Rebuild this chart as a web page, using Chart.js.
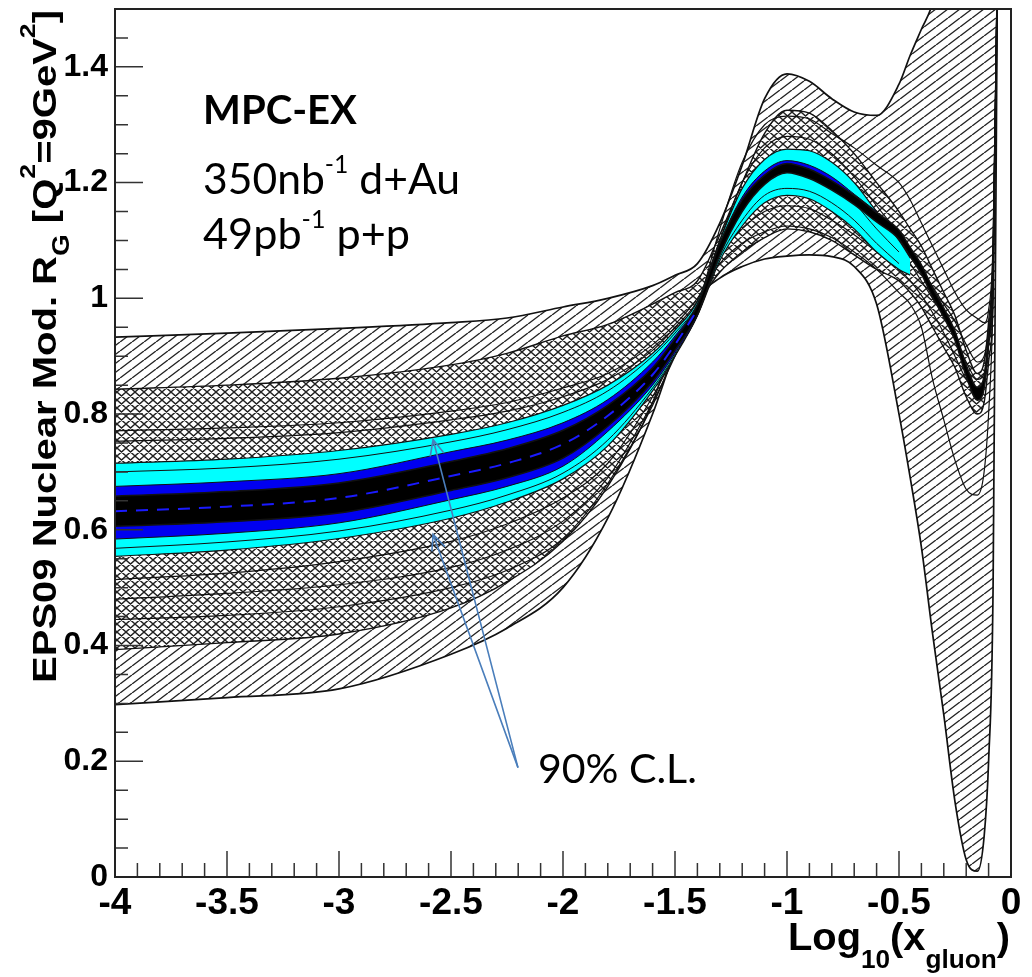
<!DOCTYPE html>
<html>
<head>
<meta charset="utf-8">
<title>EPS09 gluon nuclear modification</title>
<script src="https://cdn.jsdelivr.net/npm/chart.js@4.4.1/dist/chart.umd.min.js"></script>
<style>
  html, body { margin: 0; padding: 0; background: #fff; }
  canvas { display: block; }
</style>
</head>
<body>
<canvas id="c" width="1032" height="977" style="width:1032px;height:977px"></canvas>
<script>
// ---- data: log10(x_gluon) grid and the band / member curves of R_G ----
const xs = [-4, -3.5, -3, -2.5, -2.25, -2, -1.8, -1.6, -1.5, -1.4,
            -1.3, -1.2, -1.1, -1.0, -0.9, -0.8, -0.7, -0.6, -0.5, -0.45,
            -0.4, -0.35, -0.3, -0.25, -0.2, -0.15, -0.12, -0.1, -0.08, -0.06];

// outer (single-hatched) envelope
const outerHi = [0.933, 0.94, 0.948, 0.958, 0.966, 0.985, 1.0, 1.022, 1.04, 1.06,
                 1.13, 1.23, 1.345, 1.388, 1.375, 1.345, 1.322, 1.316, 1.37, 1.42,
                 1.465, 1.51, 1.6, 1.7, 1.8, 1.8, 1.8, 1.8, 1.8, 1.8];
const outerLo = [0.298, 0.31, 0.325, 0.385, 0.43, 0.5, 0.62, 0.8, 0.91, 1.0,
                 1.035, 1.055, 1.068, 1.073, 1.075, 1.072, 1.055, 0.99, 0.8, 0.69,
                 0.57, 0.42, 0.28, 0.13, 0.03, 0.01, 0.07, 0.2, 0.5, 1.6];

// inner (cross-hatched) envelope
const crossHi = [0.843, 0.85, 0.862, 0.885, 0.905, 0.935, 0.955, 0.99, 1.01, 1.03,
                 1.11, 1.2, 1.285, 1.325, 1.32, 1.29, 1.25, 1.2, 1.15, 1.12,
                 1.09, 1.05, 1.01, 0.97, 0.91, 0.87, 0.89, 0.96, 1.08, 1.6];
const crossLo = [0.393, 0.405, 0.42, 0.465, 0.51, 0.58, 0.675, 0.82, 0.93, 0.99,
                 1.045, 1.08, 1.105, 1.12, 1.115, 1.1, 1.075, 1.05, 1.03, 1.01,
                 0.985, 0.95, 0.915, 0.88, 0.83, 0.8, 0.82, 0.89, 1.0, 1.55];

// individual error-set members
const lineA = [0.771, 0.776, 0.785, 0.805, 0.82, 0.845, 0.87, 0.92, 0.955, 1.0,
               1.06, 1.095, 1.115, 1.125, 1.12, 1.105, 1.08, 1.05, 1.01, 0.99,
               0.95, 0.86, 0.79, 0.72, 0.67, 0.66, 0.7, 0.8, 1.0, 1.55];
const lineB = [0.753, 0.758, 0.768, 0.79, 0.805, 0.83, 0.86, 0.91, 0.95, 0.995,
               1.075, 1.12, 1.15, 1.16, 1.155, 1.135, 1.11, 1.08, 1.05, 1.03,
               1.005, 0.975, 0.94, 0.9, 0.86, 0.84, 0.85, 0.92, 1.05, 1.6];
const lineC = [0.514, 0.525, 0.545, 0.58, 0.61, 0.655, 0.715, 0.83, 0.905, 0.985,
               1.12, 1.235, 1.3, 1.315, 1.31, 1.285, 1.26, 1.23, 1.2, 1.17,
               1.13, 1.09, 1.05, 1.01, 0.98, 0.965, 0.958, 0.98, 1.1, 1.6];
const lineD = [0.48, 0.49, 0.505, 0.535, 0.565, 0.615, 0.69, 0.82, 0.9, 0.985,
               1.1, 1.2, 1.26, 1.28, 1.275, 1.25, 1.21, 1.16, 1.11, 1.08,
               1.05, 1.02, 0.99, 0.96, 0.92, 0.89, 0.9, 0.95, 1.07, 1.6];
const lineE = [0.445, 0.452, 0.467, 0.5, 0.53, 0.585, 0.68, 0.815, 0.905, 0.99,
               1.09, 1.17, 1.23, 1.25, 1.245, 1.225, 1.19, 1.14, 1.09, 1.06,
               1.03, 1.0, 0.97, 0.93, 0.89, 0.86, 0.87, 0.93, 1.06, 1.6];

// 90% C.L. projected band (cyan), inner band (blue) and central core
const cyanHi = [0.715, 0.722, 0.737, 0.765, 0.785, 0.815, 0.85, 0.905, 0.945, 0.995,
                1.1, 1.19, 1.24, 1.258, 1.255, 1.235, 1.2, 1.15, 1.1, 1.07,
                null, null, null, null, null, null, null, null, null, null];
const cyanLo = [0.554, 0.565, 0.585, 0.62, 0.648, 0.688, 0.745, 0.84, 0.9, 0.97,
                1.065, 1.125, 1.165, 1.178, 1.172, 1.15, 1.12, 1.08, 1.05, 1.04,
                null, null, null, null, null, null, null, null, null, null];
const cyanInU = [0.7, 0.707, 0.722, 0.752, 0.773, 0.803, 0.84, 0.9, 0.94, 0.99,
                 1.09, 1.165, 1.21, 1.228, 1.222, 1.2, 1.165, 1.12, 1.08, null,
                 null, null, null, null, null, null, null, null, null, null];
const cyanInL = [0.568, 0.579, 0.598, 0.634, 0.66, 0.698, 0.755, 0.845, 0.902, 0.972,
                 1.07, 1.135, 1.178, 1.19, 1.185, 1.165, 1.135, 1.095, 1.06, null,
                 null, null, null, null, null, null, null, null, null, null];
const blueHi = [0.675, 0.683, 0.697, 0.735, 0.755, 0.785, 0.825, 0.89, 0.935, 0.99,
                1.095, 1.175, 1.22, 1.238, 1.23, 1.21, 1.18, 1.15, null, null,
                null, null, null, null, null, null, null, null, null, null];
const blueLo = [0.584, 0.594, 0.612, 0.652, 0.675, 0.71, 0.77, 0.85, 0.905, 0.97,
                1.08, 1.16, 1.205, 1.222, 1.215, 1.195, 1.165, 1.135, null, null,
                null, null, null, null, null, null, null, null, null, null];
const coreHi = [0.658, 0.666, 0.681, 0.718, 0.74, 0.772, 0.815, 0.88, 0.93, 0.988,
                1.095, 1.17, 1.213, 1.233, 1.223, 1.203, 1.178, 1.148, 1.118, 1.088,
                1.058, 1.018, 0.983, 0.943, 0.885, 0.846, 0.866, 0.94, 1.05, 1.6];
const coreLo = [0.606, 0.614, 0.629, 0.668, 0.69, 0.724, 0.779, 0.856, 0.91, 0.972,
                1.075, 1.15, 1.197, 1.217, 1.207, 1.187, 1.162, 1.132, 1.102, 1.072,
                1.042, 1.002, 0.967, 0.927, 0.865, 0.824, 0.844, 0.92, 1.03, 1.6];
const coreMid = [0.632, 0.64, 0.655, 0.693, 0.715, 0.748, 0.797, 0.868, 0.92, 0.98,
                 null, null, null, null, null, null, null, null, null, null,
                 null, null, null, null, null, null, null, null, null, null];

// axis tick labels
const xTicks = [-4, -3.5, -3, -2.5, -2, -1.5, -1, -0.5, 0];
const yTicks = [0, 0.2, 0.4, 0.6, 0.8, 1, 1.2, 1.4];

// ---- drawing ----
const canvas = document.getElementById('c');
const ctx = canvas.getContext('2d');

function hatch(w, h, both) {
  const t = document.createElement('canvas');
  t.width = w; t.height = h;
  const g = t.getContext('2d');
  g.fillStyle = '#fff';
  g.fillRect(0, 0, w, h);
  g.strokeStyle = '#222';
  g.lineWidth = 1.35;
  g.beginPath();
  for (let k = -1; k <= 1; k++) {
    g.moveTo(k * w, h); g.lineTo(k * w + w, 0);
    if (both) { g.moveTo(k * w, 0); g.lineTo(k * w + w, h); }
  }
  g.stroke();
  return ctx.createPattern(t, 'repeat');
}
const singleHatch = hatch(12, 9, false);
const crossHatch = hatch(9, 8, true);

const pts = arr => xs.map((x, i) => ({ x, y: arr[i] }));
function curve(arr, extra) {
  return Object.assign({
    data: pts(arr),
    borderColor: '#111',
    borderWidth: 1.4,
    pointRadius: 0,
    fill: false,
    tension: 0.4,
    cubicInterpolationMode: 'monotone'
  }, extra);
}

const datasets = [
  curve(outerHi, { fill: '+1', backgroundColor: singleHatch, borderWidth: 1.7, order: 100 }),
  curve(outerLo, { borderWidth: 1.7, order: 99 }),
  curve(crossHi, { fill: '+1', backgroundColor: crossHatch, order: 98 }),
  curve(crossLo, { order: 97 }),
  curve(lineA, { borderWidth: 1.2, order: 96 }),
  curve(lineB, { borderWidth: 1.2, order: 96 }),
  curve(lineC, { borderWidth: 1.2, order: 96 }),
  curve(lineD, { borderWidth: 1.2, order: 96 }),
  curve(lineE, { borderWidth: 1.2, order: 96 }),
  curve(cyanHi, { fill: '+1', backgroundColor: '#00ffff', borderWidth: 1.2, order: 95 }),
  curve(cyanLo, { borderWidth: 1.2, order: 94 }),
  curve(cyanInU, { borderWidth: 1, order: 93 }),
  curve(cyanInL, { borderWidth: 1, order: 93 }),
  curve(blueHi, { fill: '+1', backgroundColor: '#0000f0', borderWidth: 1, order: 92 }),
  curve(blueLo, { borderWidth: 1, order: 91 }),
  curve(coreHi, { fill: '+1', backgroundColor: '#000', borderWidth: 1.5, order: 90 }),
  curve(coreLo, { borderWidth: 1.5, order: 89 }),
  curve(coreMid, { borderColor: '#1a1aff', borderWidth: 2, borderDash: [12, 9], order: 88 })
];

// frame and inward ticks (ROOT style)
const frameTicks = {
  id: 'frameTicks',
  afterDatasetsDraw(chart) {
    const { ctx: g, chartArea: a, scales: { x, y } } = chart;
    g.save();
    g.strokeStyle = '#333';
    g.lineWidth = 1.5;
    g.beginPath();
    for (let i = 0; i <= 40; i++) {
      const px = x.getPixelForValue(-4 + i * 0.1);
      const len = i % 5 === 0 ? 26 : 14;
      g.moveTo(px, a.bottom); g.lineTo(px, a.bottom - len);
    }
    for (let j = 0; j < 30; j++) {
      const py = y.getPixelForValue(j * 0.05);
      const len = j % 4 === 0 ? 28 : 13;
      g.moveTo(a.left, py); g.lineTo(a.left + len, py);
    }
    g.stroke();
    g.strokeStyle = '#222';
    g.lineWidth = 2;
    g.strokeRect(a.left, a.top, a.right - a.left, a.bottom - a.top);
    g.restore();
  }
};

// text made of runs [text, size, baselineShift]; stretched along the run direction to `width`
function drawRuns(g, runs, family, weight, width) {
  let total = 0;
  const ws = runs.map(r => {
    g.font = `${weight} ${r[1]}px ${family}`;
    const w = g.measureText(r[0]).width;
    total += w;
    return w;
  });
  const k = width ? width / total : 1;
  g.save();
  g.scale(k, 1);
  let cx = 0;
  runs.forEach((r, i) => {
    g.font = `${weight} ${r[1]}px ${family}`;
    g.fillText(r[0], cx, r[2]);
    cx += ws[i];
  });
  g.restore();
}

// runs scaled uniformly so the line spans `width`
function drawRunsFit(g, runs, family, weight, width, base) {
  let total = 0;
  runs.forEach(r => {
    g.font = `${weight} ${r[1] * base}px ${family}`;
    total += g.measureText(r[0]).width;
  });
  const f = base * width / total;
  let cx = 0;
  runs.forEach(r => {
    g.font = `${weight} ${r[1] * f}px ${family}`;
    g.fillText(r[0], cx, r[2] * f);
    cx += g.measureText(r[0]).width;
  });
}

const ARROW_BLUE = '#4a7ebb';
const labels = {
  id: 'labels',
  afterDraw(chart) {
    const { ctx: g, scales: { x, y } } = chart;
    const AX = "'Liberation Sans', Arial, sans-serif";
    const TX = "Lato, 'Open Sans', sans-serif";
    g.save();
    g.fillStyle = '#000';
    g.textBaseline = 'alphabetic';
    g.textAlign = 'left';

    // y-axis title
    g.save();
    g.translate(56, 683);
    g.rotate(-Math.PI / 2);
    drawRuns(g, [
      ['EPS09 Nuclear Mod. R', 33, 0], ['G', 23, 13], [' [Q', 33, 0],
      ['2', 22, -21], ['=9GeV', 33, 0], ['2', 22, -21], [']', 33, 0]
    ], AX, 'bold', 673);
    g.restore();

    // x-axis title
    g.save();
    g.translate(788, 950);
    drawRuns(g, [
      ['Log', 38, 0], ['10', 25, 18], ['(', 38, 0], ['x', 38, 0], ['gluon', 25, 18], [')', 38, 0]
    ], AX, 'bold', 222);
    g.restore();

    // experiment / luminosity notes
    g.save();
    g.translate(x.getPixelForValue(-3.607), y.getPixelForValue(1.301));
    drawRunsFit(g, [['MPC-EX', 1, 0]], TX, 'bold', 154, 40);
    g.restore();
    g.save();
    g.translate(x.getPixelForValue(-3.607), y.getPixelForValue(1.18));
    drawRunsFit(g, [['350nb', 1, 0], ['-1', 0.58, -0.5], [' d+Au', 1, 0]], TX, 'normal', 257, 40);
    g.restore();
    g.save();
    g.translate(x.getPixelForValue(-3.607), y.getPixelForValue(1.085));
    drawRunsFit(g, [['49pb', 1, 0], ['-1', 0.58, -0.5], [' p+p', 1, 0]], TX, 'normal', 207, 40);
    g.restore();

    // 90% C.L. label with arrows to the band edges
    g.save();
    g.translate(x.getPixelForValue(-2.112), y.getPixelForValue(0.163));
    drawRunsFit(g, [['90% C.L.', 1, 0]], TX, 'normal', 159, 40);
    g.restore();

    const ox = x.getPixelForValue(-2.201), oy = y.getPixelForValue(0.189);
    [[-2.58, 0.756], [-2.58, 0.592]].forEach(([tx, ty]) => {
      const px = x.getPixelForValue(tx), py = y.getPixelForValue(ty);
      const ang = Math.atan2(py - oy, px - ox);
      g.strokeStyle = ARROW_BLUE;
      g.lineWidth = 1.6;
      g.beginPath();
      g.moveTo(ox, oy); g.lineTo(px, py);
      g.moveTo(px + 17 * Math.cos(ang + Math.PI - 0.42), py + 17 * Math.sin(ang + Math.PI - 0.42));
      g.lineTo(px, py);
      g.lineTo(px + 17 * Math.cos(ang + Math.PI + 0.42), py + 17 * Math.sin(ang + Math.PI + 0.42));
      g.stroke();
    });
    g.restore();
  }
};

const fmt = v => String(Math.round(v * 100) / 100);

new Chart(ctx, {
  type: 'line',
  data: { datasets },
  options: {
    responsive: false,
    animation: false,
    events: [],
    layout: { padding: { top: 9, right: 21, left: 0, bottom: 0 } },
    plugins: { legend: { display: false }, tooltip: { enabled: false } },
    scales: {
      x: {
        type: 'linear', min: -4, max: 0,
        afterFit(s) { s.height = 100; s.paddingLeft = 0; s.paddingRight = 0; },
        afterBuildTicks(s) { s.ticks = xTicks.map(v => ({ value: v })); },
        grid: { display: false, drawTicks: false },
        border: { display: false },
        ticks: {
          autoSkip: false, maxRotation: 0, padding: 5, color: '#000',
          font: { family: "'Liberation Sans', Arial, sans-serif", weight: 'bold', size: 37 },
          callback: fmt
        }
      },
      y: {
        type: 'linear', min: 0, max: 1.5,
        afterFit(s) { s.width = 115; s.paddingTop = 0; s.paddingBottom = 0; },
        afterBuildTicks(s) { s.ticks = yTicks.map(v => ({ value: v })); },
        grid: { display: false, drawTicks: false },
        border: { display: false },
        ticks: {
          autoSkip: false, padding: 7, color: '#000',
          font: { family: "'Liberation Sans', Arial, sans-serif", weight: 'bold', size: 32 },
          callback: fmt
        }
      }
    }
  },
  plugins: [frameTicks, labels]
});
</script>
</body>
</html>
